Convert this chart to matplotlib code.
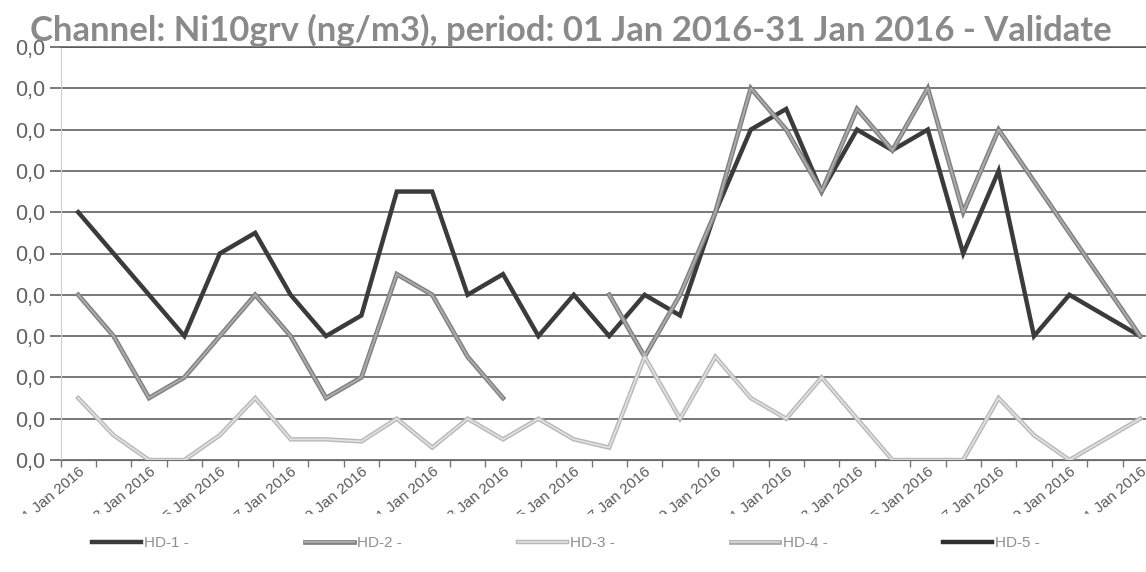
import numpy as np
import matplotlib
matplotlib.use("Agg")
import matplotlib.pyplot as plt
import matplotlib.patheffects as pe
from matplotlib.patches import Rectangle

nan = np.nan

TITLE = "Channel: Ni10grv (ng/m3), period: 01 Jan 2016-31 Jan 2016 - Validate"
DAYS = [f"{d:02d} Jan 2016" for d in range(1, 32)]

# values, one per day
HD_1 = [0.024, 0.020, 0.016, 0.012, 0.020, 0.022, 0.016, 0.012, 0.014, 0.026, 0.026,
        0.016, 0.018, 0.012, 0.016, 0.012, 0.016, 0.014, 0.024, 0.032, 0.034, 0.026,
        0.032, 0.030, 0.032, 0.020, 0.028, 0.012, 0.016, 0.014, 0.012]
HD_2 = [0.016, 0.012, 0.006, 0.008, 0.012, 0.016, 0.012, 0.006, 0.008, 0.018, 0.016,
        0.010, 0.006, nan, nan, 0.016, 0.010, 0.016, 0.024, 0.036, 0.032, 0.026,
        0.034, 0.030, 0.036, 0.024, 0.032, 0.027, 0.022, 0.017, 0.012]
HD_3 = [0.006, 0.0024, 0.0, 0.0, 0.0024, 0.006, 0.002, 0.002, 0.0018, 0.004, 0.0012,
        0.004, 0.002, 0.004, 0.002, 0.0012, 0.010, 0.004, 0.010, 0.006, 0.004, 0.008,
        0.004, 0.0, 0.0, 0.0, 0.006, 0.0024, 0.0, 0.002, 0.004]
HD_4 = [nan] * 31
HD_5 = [nan] * 31

Y_TICKS = [0.0, 0.004, 0.008, 0.012, 0.016, 0.020, 0.024, 0.028, 0.032, 0.036, 0.040]

W, H = 1146, 572
GRID = "#56534e"

fig = plt.figure(figsize=(W / 100, H / 100), dpi=100)
ax = fig.add_axes([60.5 / W, (H - 460) / H, 1097.4 / W, 413 / H])

x = np.arange(len(DAYS))
# label, values, line colour, width, edge colour (scan gives the grey lines a dark rim)
series = [
    ("HD-1 -", HD_1, "#3b3b3b", 3.2, None),
    ("HD-2 -", HD_2, "#ababab", 1.4, "#808080"),
    ("HD-3 -", HD_3, "#e2e2e2", 1.2, "#b8b8b8"),
    ("HD-4 -", HD_4, "#d4d4d4", 1.4, "#a9a9a9"),
    ("HD-5 -", HD_5, "#303030", 3.2, None),
]
handles = []
for i, (name, vals, col, lw, edge) in enumerate(series):
    line, = ax.plot(x, vals, color=col, lw=lw, label=name, zorder=3 + i,
                    solid_joinstyle="miter")
    if edge:
        line.set_path_effects([pe.Stroke(linewidth=lw + 2.0, foreground=edge), pe.Normal()])
    handles.append(line)

ax.set_xlim(-0.5, len(DAYS) - 0.5)
ax.set_ylim(0, 0.040)
ax.set_yticks(Y_TICKS)
ax.set_yticklabels([f"{v:.1f}".replace(".", ",") for v in Y_TICKS],
                   fontfamily="Liberation Sans", fontsize=15.5, color="#616161")
ax.yaxis.grid(True, color=GRID, lw=1.1)
ax.set_axisbelow(True)
ax.tick_params(axis="y", length=8, width=1.1, color=GRID, pad=3)

ax.set_xticks(x[::2])
ax.set_xticklabels(DAYS[::2], rotation=40, ha="right", va="top", rotation_mode="anchor",
                   fontfamily="Liberation Sans", fontsize=11, color="#5a5a5a")
ax.set_xticks(np.arange(-0.5, len(DAYS), 1), minor=True)
ax.tick_params(axis="x", which="major", length=0, pad=3)
ax.tick_params(axis="x", which="minor", length=5, width=1, color="#777777")

ax.spines["right"].set_visible(False)
ax.spines["top"].set_color(GRID)
ax.spines["top"].set_linewidth(1.1)
ax.spines["bottom"].set_color("#6a6a6a")
ax.spines["left"].set_color("#cfcfcf")

# the scan hides the day numbers of the date labels
fig.add_artist(Rectangle((0, (H - 533) / H), 1, 19 / H, transform=fig.transFigure,
                         color="white", zorder=3))

title = fig.text(30 / W, 1 - 41 / H, TITLE, fontfamily="Lato", fontweight="bold",
                 fontsize=20, color="#8a8a8a", va="baseline")
fig.canvas.draw()
tw = title.get_window_extent().width
title.set_fontsize(20 * 1080 / tw)

leg = fig.legend(handles=handles, loc="center", bbox_to_anchor=(0.494, 1 - 543 / H),
                 ncol=5, frameon=False, handlelength=3.2, handletextpad=0.2,
                 columnspacing=7.6, prop={"family": "Liberation Sans", "size": 11})
leg.set_zorder(6)
for t in leg.get_texts():
    t.set_color("#8f8f8f")

fig.savefig("out.png", dpi=100, facecolor="white")
